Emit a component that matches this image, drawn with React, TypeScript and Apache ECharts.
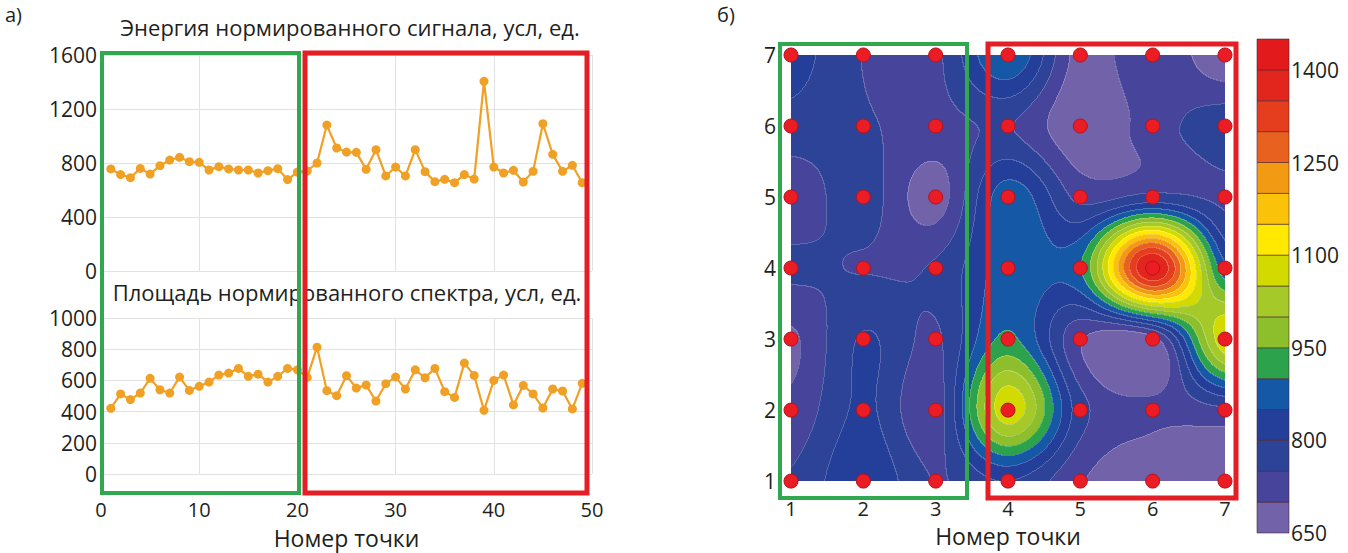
import React, { useEffect, useRef } from "react";
import * as echarts from "echarts";

// ---------- data ----------
const POINT_NO = [
  1, 2, 3, 4, 5, 6, 7, 8, 9, 10, 11, 12, 13, 14, 15, 16, 17, 18, 19, 20, 21, 22, 23, 24, 25,
  26, 27, 28, 29, 30, 31, 32, 33, 34, 35, 36, 37, 38, 39, 40, 41, 42, 43, 44, 45, 46, 47, 48, 49,
];
const ENERGY = [
  756, 714, 691, 760, 718, 780, 822, 842, 810, 805, 748, 773, 756, 748, 748, 726, 743, 758, 677, 733,
  741, 800, 1081, 911, 881, 879, 753, 899, 704, 770, 704, 899, 736, 662, 679, 654, 714, 681, 1405, 770,
  726, 746, 659, 738, 1091, 864, 738, 783, 654,
];
const AREA = [
  421, 513, 477, 519, 613, 540, 519, 621, 536, 562, 589, 634, 647, 677, 626, 640, 589, 626, 677, 668,
  619, 813, 534, 502, 630, 551, 570, 468, 579, 621, 545, 668, 617, 677, 528, 491, 711, 632, 408, 600,
  634, 443, 568, 513, 423, 545, 532, 417, 581,
];
const MAP_COLS = [1, 2, 3, 4, 5, 6, 7];
const MAP_ROWS = [1, 2, 3, 4, 5, 6, 7];
const LEVELS = [650, 700, 750, 800, 850, 900, 950, 1000, 1050, 1100, 1150, 1200, 1250, 1300, 1350, 1400, 1450];
const BAND_COLORS = [
  "#7262aa", "#47459b", "#2d4398", "#243f99", "#1558a5", "#2ca24d", "#8cbf2b", "#a4c929",
  "#d2da00", "#ffe900", "#fbc20a", "#f19a12", "#e9611f", "#e43e1e", "#e2261e", "#e31a1c",
];
const SCALE_LABELS = [650, 800, 950, 1100, 1250, 1400];
const TITLE_TOP = "Энергия нормированного сигнала, усл, ед.";
const TITLE_BOTTOM = "Площадь нормированного спектра, усл, ед.";
const X_NAME = "Номер точки";

// ---------- helpers ----------
const FONT = "'Open Sans', 'Noto Sans', sans-serif";
const TXT = "#231f20";
const ORANGE = "#f0a024";
const GREEN = "#2fa84f";
const RED = "#e31e24";

const gval = (c: number, r: number) => ENERGY[c * 7 + r];
const cr = (p0: number, p1: number, p2: number, p3: number, t: number) =>
  0.5 * (2 * p1 + (-p0 + p2) * t + (2 * p0 - 5 * p1 + 4 * p2 - p3) * t * t + (-p0 + 3 * p1 - 3 * p2 + p3) * t * t * t);
const cl = (k: number) => Math.max(0, Math.min(6, k));
function field(x: number, y: number) {
  const u = x - 1, w = y - 1;
  const i = Math.min(5, Math.max(0, Math.floor(u)));
  const j = Math.min(5, Math.max(0, Math.floor(w)));
  const t = u - i, s = w - j;
  const col: number[] = [];
  for (let d = -1; d <= 2; d++) {
    const r = cl(j + d);
    col.push(cr(gval(cl(i - 1), r), gval(i, r), gval(i + 1, r), gval(cl(i + 2), r), t));
  }
  return cr(col[0], col[1], col[2], col[3], s);
}
function bandOf(v: number) {
  let b = 0;
  for (let k = 1; k < LEVELS.length - 1; k++) if (v >= LEVELS[k]) b = k;
  return b;
}
let cache: { W: number; H: number; b: Int8Array } | null = null;
function getBands(W: number, H: number) {
  if (cache && cache.W === W && cache.H === H) return cache.b;
  const b = new Int8Array(W * H);
  for (let k = 0; k < H; k++) {
    const y = 7 - ((k + 0.5) / H) * 6;
    for (let j = 0; j < W; j++) {
      const x = 1 + ((j + 0.5) / W) * 6;
      b[k * W + j] = bandOf(field(x, y));
    }
  }
  cache = { W, H, b };
  return b;
}

function renderContour(params: any, api: any) {
  const c = api.value(0), r = api.value(1);
  const tl = api.coord([1, 7]), br = api.coord([7, 1]);
  const X0 = Math.round(tl[0]), Y0 = Math.round(tl[1]);
  const W = Math.round(br[0]) - X0, H = Math.round(br[1]) - Y0;
  const b = getBands(W, H);
  const j0 = Math.round(((Math.max(1, c - 0.5) - 1) / 6) * W);
  const j1 = Math.round(((Math.min(7, c + 0.5) - 1) / 6) * W);
  const k0 = Math.round(((7 - Math.min(7, r + 0.5)) / 6) * H);
  const k1 = Math.round(((7 - Math.max(1, r - 0.5)) / 6) * H);
  const children: any[] = [];
  const lines: any[] = [];
  for (let k = k0; k < k1; k++) {
    let start = j0, cur = b[k * W + j0];
    for (let j = j0 + 1; j <= j1; j++) {
      if (j === j1 || b[k * W + j] !== cur) {
        children.push({
          type: "rect", silent: true,
          shape: { x: X0 + start, y: Y0 + k, width: j - start, height: 1 },
          style: { fill: BAND_COLORS[cur] },
        });
        if (j < j1) { start = j; cur = b[k * W + j]; }
      }
    }
    let es = -1;
    for (let j = j0; j < j1; j++) {
      const v = b[k * W + j];
      const edge = (k > 0 && b[(k - 1) * W + j] !== v) || (j > 0 && b[k * W + j - 1] !== v);
      if (edge && es < 0) es = j;
      if (es >= 0 && (!edge || j === j1 - 1)) {
        const end = edge ? j + 1 : j;
        lines.push({
          type: "rect", silent: true,
          shape: { x: X0 + es, y: Y0 + k, width: end - es, height: 1 },
          style: { fill: "rgba(255,255,255,0.22)" },
        });
        es = -1;
      }
    }
  }
  return { type: "group", children: children.concat(lines) };
}

function renderScale(params: any, api: any) {
  const lo = api.value(0), hi = api.value(1);
  const p0 = api.coord([0, hi]), p1 = api.coord([1, lo]);
  return {
    type: "rect",
    shape: { x: p0[0], y: p0[1], width: p1[0] - p0[0], height: p1[1] - p0[1] },
    style: { fill: BAND_COLORS[params.dataIndex], stroke: "rgba(70,30,40,0.55)", lineWidth: 1 },
  };
}

const plain = (v: number) => String(v);
const labelStyle = { color: TXT, fontSize: 21, fontFamily: FONT };
const xLabelStyle = { color: TXT, fontSize: 20, fontFamily: FONT, lineHeight: 22 };
const nameStyle = { color: TXT, fontSize: 23, fontFamily: FONT, lineHeight: 24 };
const gridLine = { show: true, lineStyle: { color: "#e2e2e2", width: 1 } };

function buildOption(): any {
  const mapData: number[][] = [];
  MAP_COLS.forEach((c, ci) => MAP_ROWS.forEach((r, ri) => mapData.push([c, r, ENERGY[ci * 7 + ri]])));
  const scaleData = BAND_COLORS.map((_, i) => [LEVELS[i], LEVELS[i + 1]]);
  return {
    animation: false,
    backgroundColor: "#ffffff",
    textStyle: { fontFamily: FONT },
    grid: [
      { left: 101, top: 55, width: 491, height: 216 },
      { left: 101, top: 318, width: 491, height: 156 },
      { left: 791, top: 55, width: 434, height: 434 },
      { left: 1257, top: 39, width: 32, height: 494 },
    ],
    xAxis: [
      { gridIndex: 0, type: "value", min: 0, max: 50, interval: 10, axisLine: { show: false }, axisTick: { show: false }, axisLabel: { show: false }, splitLine: gridLine },
      {
        gridIndex: 1, type: "value", min: 0, max: 50, interval: 10, axisLine: { show: false }, axisTick: { show: false },
        axisLabel: { ...xLabelStyle, margin: 24, formatter: plain }, splitLine: gridLine,
        name: X_NAME, nameLocation: "middle", nameGap: 52, nameTextStyle: nameStyle,
      },
      {
        gridIndex: 2, type: "value", min: 1, max: 7, interval: 1, axisLine: { show: false }, axisTick: { show: false },
        axisLabel: { ...xLabelStyle, margin: 16, formatter: plain }, splitLine: { show: false },
        name: X_NAME, nameLocation: "middle", nameGap: 41, nameTextStyle: nameStyle,
      },
      { gridIndex: 3, type: "value", min: 0, max: 1, show: false },
    ],
    yAxis: [
      { gridIndex: 0, type: "value", min: 0, max: 1600, interval: 400, axisLine: { show: false }, axisTick: { show: false }, axisLabel: { ...labelStyle, margin: 4, formatter: plain }, splitLine: gridLine },
      { gridIndex: 1, type: "value", min: 0, max: 1000, interval: 200, axisLine: { show: false }, axisTick: { show: false }, axisLabel: { ...labelStyle, margin: 4, formatter: plain }, splitLine: gridLine },
      { gridIndex: 2, type: "value", min: 1, max: 7, interval: 1, axisLine: { show: false }, axisTick: { show: false }, axisLabel: { ...labelStyle, margin: 15, formatter: plain }, splitLine: { show: false } },
      {
        gridIndex: 3, type: "value", position: "right", min: 650, max: 1450, interval: 50,
        axisLine: { show: false }, axisTick: { show: false }, splitLine: { show: false },
        axisLabel: { ...labelStyle, margin: 2, formatter: (v: number) => (SCALE_LABELS.indexOf(v) >= 0 ? String(v) : "") },
      },
    ],
    series: [
      {
        type: "line", xAxisIndex: 0, yAxisIndex: 0, data: POINT_NO.map((n, i) => [n, ENERGY[i]]),
        symbol: "circle", symbolSize: 9, showSymbol: true, itemStyle: { color: ORANGE }, lineStyle: { color: ORANGE, width: 2.2 }, z: 3,
      },
      {
        type: "line", xAxisIndex: 1, yAxisIndex: 1, data: POINT_NO.map((n, i) => [n, AREA[i]]),
        symbol: "circle", symbolSize: 9, showSymbol: true, itemStyle: { color: ORANGE }, lineStyle: { color: ORANGE, width: 2.2 }, z: 3,
      },
      {
        type: "custom", xAxisIndex: 2, yAxisIndex: 2, data: mapData, renderItem: renderContour,
        encode: { x: 0, y: 1 }, z: 1, silent: true,
      },
      {
        type: "scatter", xAxisIndex: 2, yAxisIndex: 2, data: mapData.map((d) => [d[0], d[1]]),
        symbol: "circle", symbolSize: 14, itemStyle: { color: "#ec1c24", opacity: 1, borderColor: "#b3141b", borderWidth: 1 }, z: 5,
      },
      {
        type: "custom", xAxisIndex: 3, yAxisIndex: 3, data: scaleData, renderItem: renderScale,
        encode: { y: [0, 1] }, z: 2, silent: true,
      },
    ],
    graphic: [
      { type: "text", z: 100, x: 5, y: 14, style: { text: "а)", fill: TXT, font: `20px ${FONT}`, verticalAlign: "middle" } },
      { type: "text", z: 100, x: 717, y: 14, style: { text: "б)", fill: TXT, font: `20px ${FONT}`, verticalAlign: "middle" } },
      { type: "text", z: 100, x: 350, y: 27, style: { text: TITLE_TOP, fill: TXT, font: `22px ${FONT}`, align: "center", verticalAlign: "middle" } },
      { type: "text", z: 100, x: 347, y: 292, style: { text: TITLE_BOTTOM, fill: TXT, font: `22px ${FONT}`, align: "center", verticalAlign: "middle" } },
      { type: "rect", z: 100, shape: { x: 102, y: 53, width: 197, height: 440 }, style: { fill: "none", stroke: GREEN, lineWidth: 4 } },
      { type: "rect", z: 100, shape: { x: 305, y: 53, width: 282, height: 440 }, style: { fill: "none", stroke: RED, lineWidth: 5 } },
      { type: "rect", z: 100, shape: { x: 780, y: 44, width: 187, height: 454 }, style: { fill: "none", stroke: GREEN, lineWidth: 4 } },
      { type: "rect", z: 100, shape: { x: 988, y: 44, width: 248, height: 454 }, style: { fill: "none", stroke: RED, lineWidth: 5 } },
    ],
  };
}

export default function App() {
  const ref = useRef<HTMLDivElement>(null);
  useEffect(() => {
    if (!ref.current) return;
    const chart = echarts.init(ref.current, null, { renderer: "svg" });
    chart.setOption(buildOption());
    return () => chart.dispose();
  }, []);
  return (
    <div
      ref={ref}
      style={{ position: "absolute", left: 0, top: 0, width: 1348, height: 553, background: "#fff" }}
    />
  );
}
